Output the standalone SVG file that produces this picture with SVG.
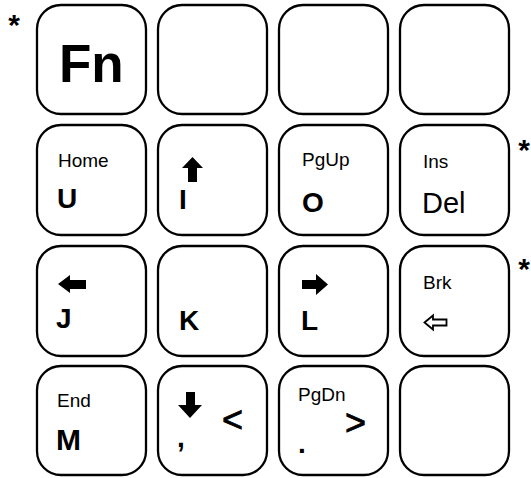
<svg xmlns="http://www.w3.org/2000/svg" width="531" height="478" viewBox="0 0 531 478">
<style>
.key{fill:#fff;stroke:#000;stroke-width:2.3}
text{font-family:"Liberation Sans",Arial,sans-serif;fill:#000}
.sm{font-size:19px}
.big{font-size:28px;font-weight:bold}
.ast{font-size:30px;font-weight:bold;text-anchor:middle}
.ang{font-size:36px;stroke:#000;stroke-width:0.8}
.arw{fill:#000}
.hol{fill:#fff;stroke:#000;stroke-width:1.8;stroke-linejoin:miter}
</style>
<rect width="531" height="478" fill="#fff"/>
<text class="ast" x="14" y="35">*</text>
<text class="ast" x="524" y="160">*</text>
<text class="ast" x="524" y="279">*</text>
<g id="key-fn"><rect class="key" x="37" y="5" width="109" height="109" rx="24"/><text x="59" y="82" style="font-size:53px;font-weight:bold">Fn</text></g>
<g id="key-r1c2"><rect class="key" x="158" y="5" width="109" height="109" rx="24"/></g>
<g id="key-r1c3"><rect class="key" x="279" y="5" width="109" height="109" rx="24"/></g>
<g id="key-r1c4"><rect class="key" x="400" y="5" width="109" height="109" rx="24"/></g>

<g id="key-u"><rect class="key" x="37" y="125" width="109" height="110" rx="24"/><text class="sm" x="58" y="167">Home</text><text class="big" x="57" y="208">U</text></g>
<g id="key-i"><rect class="key" x="158" y="125" width="109" height="110" rx="24"/><polygon class="arw" points="192.5,157 203,168 197,168 197,182 188,182 188,168 182,168"/><text class="big" x="179" y="209">I</text></g>
<g id="key-o"><rect class="key" x="279" y="125" width="109" height="110" rx="24"/><text class="sm" x="302" y="166">PgUp</text><text class="big" x="302" y="212">O</text></g>
<g id="key-del"><rect class="key" x="400" y="125" width="109" height="110" rx="24"/><text class="sm" x="423" y="168">Ins</text><text x="422" y="213" style="font-size:29px">Del</text></g>

<g id="key-j"><rect class="key" x="37" y="246" width="109" height="110" rx="24"/><polygon class="arw" points="58,284 70,275 70,280 86,280 86,289 70,289 70,293"/><text class="big" x="56" y="328">J</text></g>
<g id="key-k"><rect class="key" x="158" y="246" width="109" height="110" rx="24"/><text class="big" x="179" y="330">K</text></g>
<g id="key-l"><rect class="key" x="279" y="246" width="109" height="110" rx="24"/><polygon class="arw" points="328,284.5 316,274 316,280 302,280 302,289 316,289 316,295"/><text class="big" x="301" y="330">L</text></g>
<g id="key-brk"><rect class="key" x="400" y="246" width="109" height="110" rx="24"/><text class="sm" x="423" y="289">Brk</text><polygon class="hol" points="424.5,322.5 433,315.5 433,319.5 446.5,319.5 446.5,325.5 433,325.5 433,329.5"/></g>

<g id="key-m"><rect class="key" x="37" y="366" width="109" height="109" rx="24"/><text class="sm" x="57" y="407">End</text><text class="big" x="56" y="450" style="font-size:30px">M</text></g>
<g id="key-comma"><rect class="key" x="158" y="366" width="109" height="109" rx="24"/><polygon class="arw" points="190,418 202,405 195,405 195,392 186,392 186,405 178,405"/><text class="big" x="177" y="447">,</text><text class="ang" x="222" y="432">&lt;</text></g>
<g id="key-period"><rect class="key" x="279" y="366" width="109" height="109" rx="24"/><text class="sm" x="298" y="401">PgDn</text><text class="ang" x="345" y="435">&gt;</text><text class="big" x="298" y="453">.</text></g>
<g id="key-r4c4"><rect class="key" x="400" y="366" width="109" height="109" rx="24"/></g>
<g id="connectors"></g>
</svg>
